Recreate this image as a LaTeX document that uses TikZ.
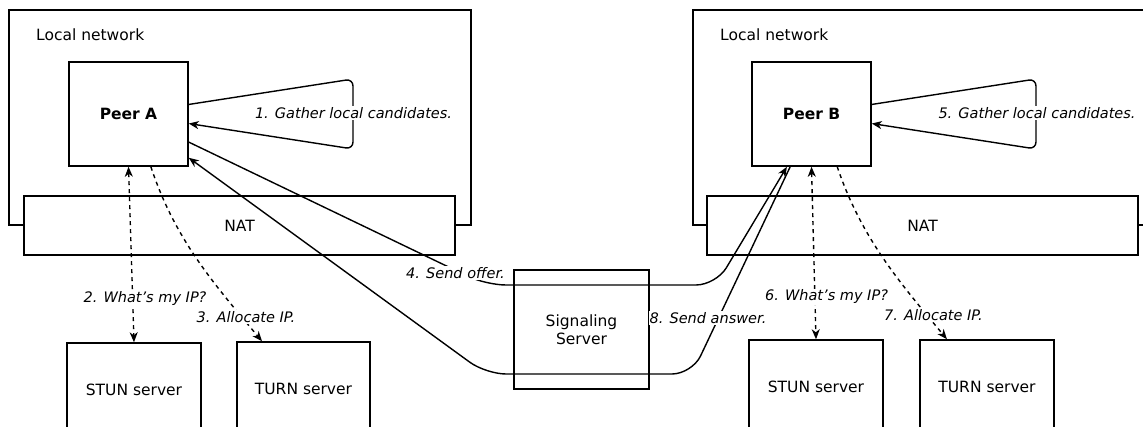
\documentclass[tikz,border=0pt]{standalone}
\usepackage{fontspec}
\setmainfont{DejaVu Sans}
\usetikzlibrary{arrows.meta}
\tikzset{
  box/.style={draw, line width=1.5pt, fill=white, rectangle, inner sep=0pt,
    font=\fontsize{15.5}{18.5}\selectfont, align=center},
  zone/.style={draw, line width=1.5pt, rectangle, inner sep=0pt},
  caption/.style={font=\fontsize{15.5}{18.5}\selectfont, inner sep=0pt, anchor=west},
  lbl/.style={font=\fontsize{14.5}{17}\selectfont\itshape, fill=white, inner sep=1pt},
  link/.style={line width=1.4pt},
  dlink/.style={line width=1.4pt, dash pattern=on 4pt off 4pt},
  >={Stealth[length=10pt,width=8pt,inset=3pt]}
}
\begin{document}
\begin{tikzpicture}[x=1pt,y=-1pt]
\useasboundingbox (0,0) rectangle (1143,427);
\clip (0,0) rectangle (1143,427);

% local networks
\node[zone, minimum width=462pt, minimum height=215pt] (lanA) at (240,117.5) {};
\node[zone, minimum width=462pt, minimum height=215pt] (lanB) at (924,117.5) {};
\node[caption] (lanAtxt) at (36,35) {Local network};
\node[caption] (lanBtxt) at (720,35) {Local network};

% NAT layers
\node[box, minimum width=431pt, minimum height=59pt] (natA) at (239.5,225.5) {NAT};
\node[box, minimum width=431pt, minimum height=59pt] (natB) at (922.5,225.5) {NAT};

% peers
\node[box, minimum width=119pt, minimum height=104pt, font=\fontsize{15.5}{18.5}\selectfont\bfseries] (peerA) at (128.5,114) {Peer A};
\node[box, minimum width=119pt, minimum height=104pt, font=\fontsize{15.5}{18.5}\selectfont\bfseries] (peerB) at (811.5,114) {Peer B};

% servers
\node[box, minimum width=134pt, minimum height=94pt] (stunA) at (134,390) {STUN server};
\node[box, minimum width=133pt, minimum height=94pt] (turnA) at (303.5,389) {TURN server};
\node[box, minimum width=134pt, minimum height=94pt] (stunB) at (816,387) {STUN server};
\node[box, minimum width=134pt, minimum height=94pt] (turnB) at (987,387) {TURN server};
\node[zone, minimum width=135pt, minimum height=119pt, align=center,
      font=\fontsize{15.5}{18.5}\selectfont] (sig) at (581.5,329.5) {Signaling\\Server};

% gathering loops
\draw[link, ->, rounded corners=7pt] (peerA.9.5) -- (353,79) -- (353,149) -- (peerA.-9.5);
\draw[link, ->, rounded corners=7pt] (peerB.9.5) -- (1036,79) -- (1036,149) -- (peerB.-9.5);
\node[lbl] (l1) at (353.5,113) {1. Gather local candidates.};
\node[lbl] (l5) at (1037,113) {5. Gather local candidates.};

% STUN / TURN requests
\draw[dlink, <->] (peerA.south) -- (stunA.north);
\draw[dlink, ->] (peerA.-67.5) .. controls (175,240) and (215,285) .. (turnA.131);
\draw[dlink, <->] (peerB.south) -- (stunB.north);
\draw[dlink, ->] (peerB.-64) .. controls (862,240) and (902,285) .. (turnB.130);
\node[lbl] (l2) at (145,299) {2. What's my IP?};
\node[lbl] (l3) at (246,317) {3. Allocate IP.};
\node[lbl] (l6) at (826.5,297) {6. What's my IP?};
\node[lbl] (l7) at (933.5,315) {7. Allocate IP.};

% offer / answer through the signaling server
\draw[link, ->, rounded corners=20pt] (peerA.-25) -- (486,285) -- (716,285) -- (peerB.-115);
\draw[link, ->, rounded corners=20pt] (peerB.-112.5) -- (692,374) -- (486,374) -- (peerA.-36.5);
\node[lbl] (l4) at (455.5,273) {4. Send offer.};
\node[lbl] (l8) at (708,318) {8. Send answer.};
\end{tikzpicture}
\end{document}
